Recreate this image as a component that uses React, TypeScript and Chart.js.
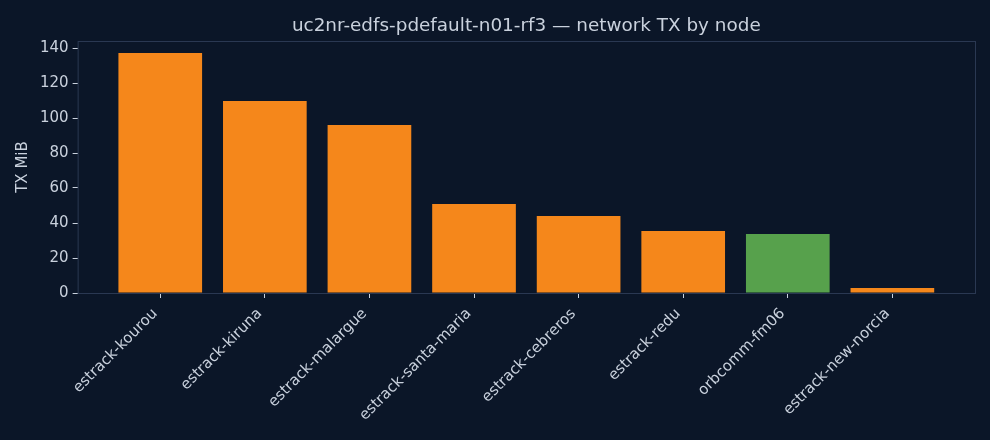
import React, { useEffect, useRef } from "react";
import { Chart, registerables, type Plugin } from "chart.js";

Chart.register(...registerables);

const nodes = [
  "estrack-kourou",
  "estrack-kiruna",
  "estrack-malargue",
  "estrack-santa-maria",
  "estrack-cebreros",
  "estrack-redu",
  "orbcomm-fm06",
  "estrack-new-norcia",
];
const txMiB = [137.1, 109.7, 96.0, 50.9, 44.0, 35.4, 33.7, 2.9];
const nodeGroup = ["estrack", "estrack", "estrack", "estrack", "estrack", "estrack", "orbcomm", "estrack"];
const yTicks = [0, 20, 40, 60, 80, 100, 120, 140];

const BG = "#0b1628";
const TEXT = "#c9d1dd";
const SPINE = "#2a3852";
const ORANGE = "#f5871b";
const GREEN = "#57a14c";
const TITLE = "uc2nr-edfs-pdefault-n01-rf3 \u2014 network TX by node";
const FONT = "'DejaVu Sans', sans-serif";

// frame around the plot + title centred over the plot area
const framePlugin: Plugin = {
  id: "frame",
  beforeDraw(chart) {
    const { ctx, width, height } = chart;
    ctx.save();
    ctx.fillStyle = BG;
    ctx.fillRect(0, 0, width, height);
    ctx.restore();
  },
  afterDraw(chart) {
    const { ctx, chartArea: a } = chart;
    ctx.save();
    ctx.strokeStyle = SPINE;
    ctx.lineWidth = 1;
    ctx.strokeRect(a.left + 0.5, a.top + 0.5, a.right - a.left, a.bottom - a.top);
    ctx.fillStyle = TEXT;
    ctx.font = `18.4px ${FONT}`;
    ctx.textAlign = "center";
    ctx.textBaseline = "middle";
    ctx.fillText(TITLE, (a.left + a.right) / 2, 26.5);
    ctx.restore();
  },
};

const App: React.FC = () => {
  const canvasRef = useRef<HTMLCanvasElement>(null);
  const chartRef = useRef<Chart | null>(null);

  useEffect(() => {
    document.body.style.margin = "0";
    document.body.style.background = BG;
    if (!canvasRef.current) return;
    const ctx = canvasRef.current.getContext("2d");
    if (!ctx) return;

    if (chartRef.current) chartRef.current.destroy();

    chartRef.current = new Chart(ctx, {
      type: "bar",
      data: {
        datasets: [
          {
            label: "TX MiB",
            data: txMiB.map((v, i) => ({ x: i, y: v })),
            backgroundColor: nodeGroup.map((g) => (g === "orbcomm" ? GREEN : ORANGE)),
            borderWidth: 0,
            categoryPercentage: 0.8,
            barPercentage: 1.0,
          },
        ],
      },
      options: {
        animation: false,
        responsive: false,
        maintainAspectRatio: false,
        layout: { padding: { top: 41, right: 15, left: 14, bottom: 0 } },
        plugins: {
          legend: { display: false },
          tooltip: { enabled: false },
        },
        scales: {
          x: {
            type: "linear",
            offset: false,
            min: -0.79,
            max: 7.79,
            afterBuildTicks: (axis) => {
              axis.ticks = nodes.map((_, i) => ({ value: i }));
            },
            afterFit: (axis) => {
              axis.height = 147;
            },
            ticks: {
              color: TEXT,
              font: { family: FONT, size: 15 },
              maxRotation: 45,
              minRotation: 45,
              autoSkip: false,
              padding: 7,
              labelOffset: -5,
              callback: (v) => nodes[Number(v)] ?? "",
            },
            grid: {
              display: true,
              offset: false,
              drawOnChartArea: false,
              drawTicks: true,
              tickLength: 5,
              tickColor: TEXT,
            },
            border: { display: false },
          },
          y: {
            min: 0,
            max: 144,
            afterBuildTicks: (axis) => {
              axis.ticks = yTicks.map((v) => ({ value: v }));
            },
            title: {
              display: true,
              text: "TX MiB",
              color: TEXT,
              font: { family: FONT, size: 15 },
              padding: { top: 0, bottom: 4 },
            },
            ticks: {
              color: TEXT,
              font: { family: FONT, size: 15 },
              padding: 4,
            },
            grid: {
              display: true,
              drawOnChartArea: false,
              drawTicks: true,
              tickLength: 5,
              tickColor: TEXT,
            },
            border: { display: false },
          },
        },
      },
      plugins: [framePlugin],
    });

    return () => {
      if (chartRef.current) {
        chartRef.current.destroy();
        chartRef.current = null;
      }
    };
  }, []);

  return (
    <div style={{ width: 990, height: 440, background: BG }}>
      <canvas ref={canvasRef} width={990} height={440} style={{ width: 990, height: 440 }} />
    </div>
  );
};

export default App;
